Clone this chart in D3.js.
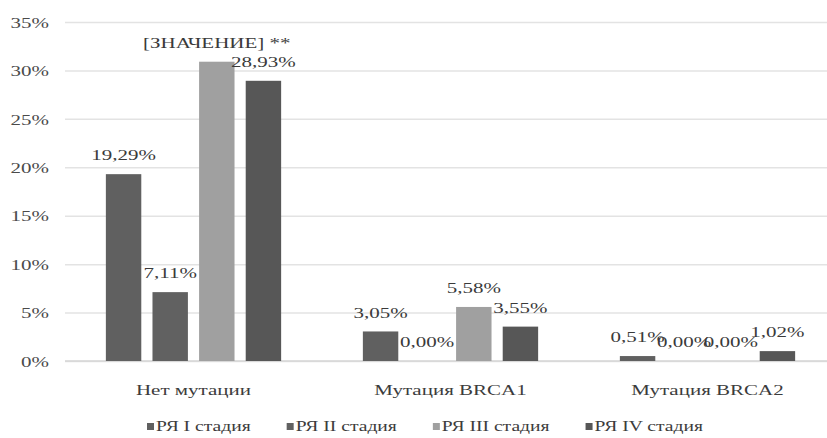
<!DOCTYPE html>
<html>
<head>
<meta charset="utf-8">
<script src="https://cdn.jsdelivr.net/npm/d3@7/dist/d3.min.js"></script>
<style>
  html, body { margin: 0; padding: 0; background: #fff; }
  svg text { font-family: "Liberation Serif", "Times New Roman", serif; }
</style>
</head>
<body>
<svg id="chart" width="827" height="438"></svg>
<script>
// Categories (mutation status) and series (stage of ovarian cancer)
const categories = ["Нет мутации", "Мутация BRCA1", "Мутация BRCA2"];
const seriesNames = ["РЯ I стадия", "РЯ II стадия", "РЯ III стадия", "РЯ IV стадия"];

// Share of patients, %
const stage1 = [19.29, 3.05, 0.51];
const stage2 = [7.11, 0.00, 0.00];
const stage3 = [30.90, 5.58, 0.00];
const stage4 = [28.93, 3.55, 1.02];

// Data label overrides (null = show the value)
const stage3Labels = ["[ЗНАЧЕНИЕ] **", null, null];

const yTicks = [0, 5, 10, 15, 20, 25, 30, 35];
const colors = ["#606060", "#616161", "#a0a0a0", "#575757"];

const seriesValues = [stage1, stage2, stage3, stage4];
const seriesLabels = [null, null, stage3Labels, null];

(function draw() {
  const SX = 1.4; // horizontal stretch of the type
  const svg = d3.select("#chart");

  const plotLeft = 65, plotRight = 836, plotTop = 22, plotBottom = 361;

  const x0 = d3.scaleBand().domain(categories).range([plotLeft, plotRight])
    .paddingInner(0.318).paddingOuter(0.159);
  const x1 = d3.scaleBand().domain(d3.range(seriesNames.length))
    .range([0, x0.bandwidth()]).paddingInner(0.24).paddingOuter(0);
  const y = d3.scaleLinear().domain([0, 35]).range([plotBottom, plotTop]);

  const fmt = v => v.toFixed(2).replace(".", ",") + "%";

  // Gridlines
  const grid = svg.append("g").attr("transform", `translate(${plotLeft},0)`)
    .call(d3.axisLeft(y).tickValues(yTicks).tickSize(-(827 - plotLeft)).tickFormat(""));
  grid.select(".domain").remove();
  grid.selectAll("line").attr("stroke", "#e3e3e3").attr("stroke-width", 1.5);

  // Y axis labels
  const yAxis = svg.append("g").attr("transform", `translate(${plotLeft},0)`)
    .call(d3.axisLeft(y).tickValues(yTicks).tickSize(0).tickFormat(d => d + "%"));
  yAxis.select(".domain").remove();
  yAxis.selectAll("text")
    .attr("x", 0).attr("dy", "0.35em")
    .attr("transform", `translate(-16,0) scale(${SX},1)`)
    .attr("text-anchor", "end")
    .attr("font-size", 15)
    .attr("fill", "#4a4a4a")
    .attr("font-family", "Liberation Serif, serif");

  // Category axis
  const xAxis = svg.append("g").attr("transform", `translate(0,${plotBottom})`)
    .call(d3.axisBottom(x0).tickSize(0));
  xAxis.select(".domain").attr("stroke", "#d6d6d6").attr("stroke-width", 1.5)
    .attr("d", `M${plotLeft},0H827`);
  xAxis.selectAll("text")
    .attr("y", 0).attr("dy", "0.35em")
    .attr("transform", `translate(0,29) scale(${SX},1)`)
    .attr("font-size", 15)
    .attr("fill", "#3c3c3c")
    .attr("font-family", "Liberation Serif, serif");

  // Bars
  const rows = [];
  seriesValues.forEach((vals, s) => {
    vals.forEach((v, c) => {
      const lbl = seriesLabels[s] && seriesLabels[s][c] ? seriesLabels[s][c] : fmt(v);
      rows.push({ s, c, v, lbl });
    });
  });

  svg.append("g").selectAll("rect").data(rows).join("rect")
    .attr("x", d => x0(categories[d.c]) + x1(d.s))
    .attr("width", x1.bandwidth())
    .attr("y", d => y(d.v))
    .attr("height", d => y(0) - y(d.v))
    .attr("fill", d => colors[d.s]);

  // Data labels
  svg.append("g").selectAll("text").data(rows).join("text")
    .attr("transform", d => `translate(${x0(categories[d.c]) + x1(d.s) + x1.bandwidth() / 2},${y(d.v) - 19}) scale(${SX},1)`)
    .attr("dy", "0.35em")
    .attr("text-anchor", "middle")
    .attr("font-size", 15)
    .attr("fill", "#3a3a3a")
    .text(d => d.lbl);

  // Legend
  const legend = svg.append("g");
  let lx = 147;
  const ly = 426.5;
  seriesNames.forEach((name, i) => {
    legend.append("rect")
      .attr("x", lx).attr("y", ly - 3.5).attr("width", 7).attr("height", 7)
      .attr("fill", colors[i]);
    const t = legend.append("text")
      .attr("transform", `translate(${lx + 9},${ly}) scale(${SX},1)`)
      .attr("dy", "0.35em")
      .attr("font-size", 14)
      .attr("fill", "#3c3c3c")
      .text(name);
    lx += 9 + t.node().getComputedTextLength() * SX + 36;
  });
})();
</script>
</body>
</html>
